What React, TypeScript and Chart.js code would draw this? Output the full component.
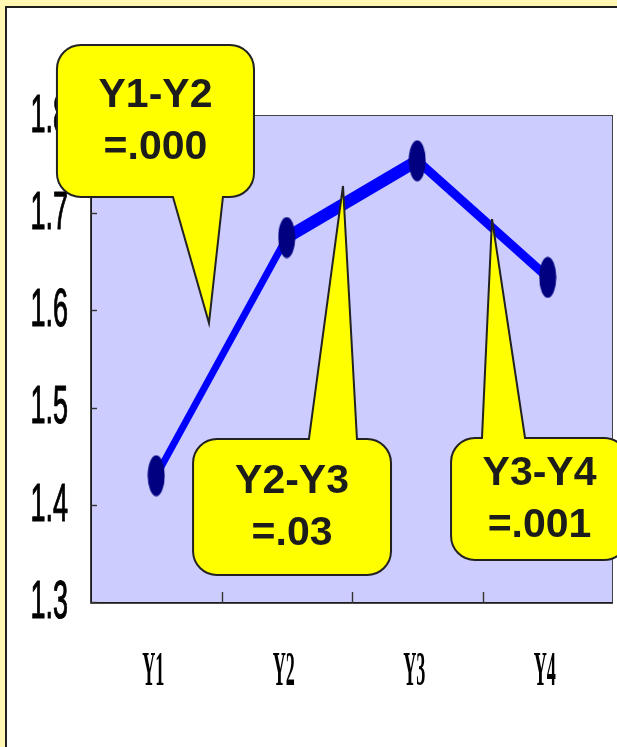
import { useEffect, useRef } from 'react';
import { Chart, registerables } from 'chart.js';

Chart.register(...registerables);

// Category labels and mean scores
const categories = ['Y1', 'Y2', 'Y3', 'Y4'];
const meanValues = [1.43, 1.675, 1.754, 1.634];

// Value axis
const yMin = 1.3;
const yMax = 1.8;
const yStep = 0.1;

// Line thickness per segment (Y1-Y2, Y2-Y3, Y3-Y4)
const segmentWidths = [7, 12, 9];

// Pairwise comparison callouts, anchored in data units
// (x in category index units, y in axis value units)
const comparisonLabels = [
  ['Y1-Y2', '=.000'],
  ['Y2-Y3', '=.03'],
  ['Y3-Y4', '=.001'],
];
const comparisonBoxes = [
  { l: -0.761, r: 0.749, t: 1.873, b: 1.7167, side: 'bottom', b1: 0.128, b2: 0.511, tx: 0.404, ty: 1.587 },
  { l: 0.282, r: 1.799, t: 1.4677, b: 1.3278, side: 'top', b1: 1.17, b2: 1.538, tx: 1.431, ty: 1.728 },
  { l: 2.259, r: 3.615, t: 1.4687, b: 1.3432, side: 'top', b1: 2.496, b2: 2.826, tx: 2.573, ty: 1.694 },
];

const W = 617;
const H = 747;

function makeMarker(): HTMLCanvasElement {
  const c = document.createElement('canvas');
  c.width = 18;
  c.height = 42;
  const g = c.getContext('2d')!;
  g.fillStyle = '#000080';
  g.beginPath();
  g.ellipse(9, 21, 8.5, 20.5, 0, 0, Math.PI * 2);
  g.fill();
  return c;
}

function calloutPath(
  ctx: CanvasRenderingContext2D,
  l: number, t: number, r: number, b: number, rad: number,
  side: string, b1: number, b2: number, tx: number, ty: number
) {
  ctx.beginPath();
  ctx.moveTo(l + rad, t);
  if (side === 'top') {
    ctx.lineTo(b1, t);
    ctx.lineTo(tx, ty);
    ctx.lineTo(b2, t);
  }
  ctx.lineTo(r - rad, t);
  ctx.arcTo(r, t, r, t + rad, rad);
  ctx.lineTo(r, b - rad);
  ctx.arcTo(r, b, r - rad, b, rad);
  if (side === 'bottom') {
    ctx.lineTo(b2, b);
    ctx.lineTo(tx, ty);
    ctx.lineTo(b1, b);
  }
  ctx.lineTo(l + rad, b);
  ctx.arcTo(l, b, l, b - rad, rad);
  ctx.lineTo(l, t + rad);
  ctx.arcTo(l, t, l + rad, t, rad);
  ctx.closePath();
}

const framePlugin = {
  id: 'frame',
  beforeDraw(chart: any) {
    const ctx: CanvasRenderingContext2D = chart.ctx;
    const { left, top, right, bottom } = chart.chartArea;
    ctx.save();
    // page background and inner white panel
    ctx.fillStyle = '#FFF7B2';
    ctx.fillRect(0, 0, W, H);
    ctx.fillStyle = '#1e1e1e';
    ctx.fillRect(5, 6, W, H);
    ctx.fillStyle = '#ffffff';
    ctx.fillRect(7, 8, W, H);
    // plot area
    ctx.fillStyle = '#CCCCFF';
    ctx.fillRect(left, top - 1, right - left, bottom - top + 2);
    ctx.strokeStyle = '#444';
    ctx.lineWidth = 1;
    ctx.strokeRect(left + 0.5, top - 0.5, right - left - 1, bottom - top + 1);
    ctx.restore();
  },
  afterDatasetsDraw(chart: any) {
    const ctx: CanvasRenderingContext2D = chart.ctx;
    const xs = chart.scales.x;
    const ys = chart.scales.y;
    const { left, bottom, top } = chart.chartArea;
    ctx.save();
    // axis lines
    ctx.strokeStyle = '#111';
    ctx.lineWidth = 1.6;
    ctx.beginPath();
    ctx.moveTo(left, top - 1);
    ctx.lineTo(left, bottom + 1);
    ctx.lineTo(chart.chartArea.right, bottom + 1);
    ctx.stroke();
    // inward tick marks
    ctx.strokeStyle = '#333';
    ctx.lineWidth = 1.4;
    ys.ticks.forEach((_t: any, i: number) => {
      const y = Math.round(ys.getPixelForTick(i)) + 0.5;
      ctx.beginPath();
      ctx.moveTo(left, y);
      ctx.lineTo(left + 6, y);
      ctx.stroke();
    });
    for (let i = 1; i < categories.length; i++) {
      const x = Math.round(xs.getPixelForValue(i - 0.5)) + 0.5;
      ctx.beginPath();
      ctx.moveTo(x, bottom + 1);
      ctx.lineTo(x, bottom - 10);
      ctx.stroke();
    }
    // y tick labels (condensed, slightly emboldened)
    ctx.fillStyle = '#000';
    ctx.strokeStyle = '#000';
    ctx.lineWidth = 1.2;
    ctx.lineJoin = 'round';
    ctx.font = '54px "Liberation Sans", Arial, sans-serif';
    ctx.textAlign = 'right';
    ctx.textBaseline = 'middle';
    ys.ticks.forEach((t: any, i: number) => {
      const y = ys.getPixelForTick(i);
      const txt = t.value.toFixed(1);
      ctx.save();
      ctx.translate(68, y + 1);
      ctx.scale(0.5, 1);
      ctx.fillText(txt, 0, 0);
      ctx.strokeText(txt, 0, 0);
      ctx.restore();
    });
    // x category labels (condensed serif)
    ctx.font = 'bold 49px "Liberation Serif", "Times New Roman", serif';
    ctx.textAlign = 'center';
    ctx.textBaseline = 'middle';
    categories.forEach((c, i) => {
      const x = xs.getPixelForValue(i);
      ctx.save();
      ctx.translate(x - 3, 672);
      ctx.scale(0.37, 1);
      ctx.fillText(c, 0, 0);
      ctx.restore();
    });
    ctx.restore();
  },
  afterDraw(chart: any) {
    const ctx: CanvasRenderingContext2D = chart.ctx;
    const xs = chart.scales.x;
    const ys = chart.scales.y;
    ctx.save();
    comparisonBoxes.forEach((c, k) => {
      const l = xs.getPixelForValue(c.l);
      const r = xs.getPixelForValue(c.r);
      const t = ys.getPixelForValue(c.t);
      const b = ys.getPixelForValue(c.b);
      const b1 = xs.getPixelForValue(c.b1);
      const b2 = xs.getPixelForValue(c.b2);
      const tx = xs.getPixelForValue(c.tx);
      const ty = ys.getPixelForValue(c.ty);
      calloutPath(ctx, l, t, r, b, 24, c.side, b1, b2, tx, ty);
      ctx.fillStyle = '#FFFF00';
      ctx.fill();
      ctx.strokeStyle = '#222';
      ctx.lineWidth = 2;
      ctx.lineJoin = 'miter';
      ctx.stroke();
      const cx = (l + r) / 2;
      const cy = (t + b) / 2;
      ctx.fillStyle = '#1c1c1c';
      ctx.font = 'bold 41px "Liberation Sans", Arial, sans-serif';
      ctx.textAlign = 'center';
      ctx.textBaseline = 'middle';
      const lines = comparisonLabels[k];
      ctx.fillText(lines[0], cx, cy - 25);
      ctx.fillText(lines[1], cx, cy + 27);
    });
    ctx.restore();
  },
};

export default function App() {
  const canvasRef = useRef<HTMLCanvasElement | null>(null);

  useEffect(() => {
    const canvas = canvasRef.current;
    if (!canvas) return;
    const marker = makeMarker();
    const chart = new Chart(canvas, {
      type: 'line',
      data: {
        labels: categories,
        datasets: [
          {
            data: meanValues,
            borderColor: '#0000FF',
            borderWidth: 8,
            borderCapStyle: 'butt',
            tension: 0,
            fill: false,
            pointStyle: marker as any,
            pointRadius: 10,
            pointHoverRadius: 10,
            clip: false as any,
            segment: {
              borderWidth: (ctx: any) => segmentWidths[ctx.p0DataIndex],
            } as any,
          },
        ],
      },
      options: {
        responsive: false,
        animation: false,
        devicePixelRatio: 1,
        events: [],
        layout: { autoPadding: false, padding: { top: 116, right: 4, left: 0, bottom: 0 } },
        plugins: {
          legend: { display: false },
          tooltip: { enabled: false },
        },
        scales: {
          x: {
            type: 'category',
            offset: true,
            grid: { display: false },
            border: { display: false },
            ticks: { display: false },
            afterFit: (s: any) => { s.height = H - 602; },
          },
          y: {
            type: 'linear',
            min: yMin,
            max: yMax,
            grid: { display: false },
            border: { display: false },
            ticks: { display: false, stepSize: yStep },
            afterFit: (s: any) => { s.width = 91; },
          },
        },
      },
      plugins: [framePlugin],
    });
    return () => chart.destroy();
  }, []);

  return (
    <div style={{ position: 'absolute', left: 0, top: 0, width: W, height: H, overflow: 'hidden' }}>
      <canvas ref={canvasRef} width={W} height={H} style={{ display: 'block' }} />
    </div>
  );
}
